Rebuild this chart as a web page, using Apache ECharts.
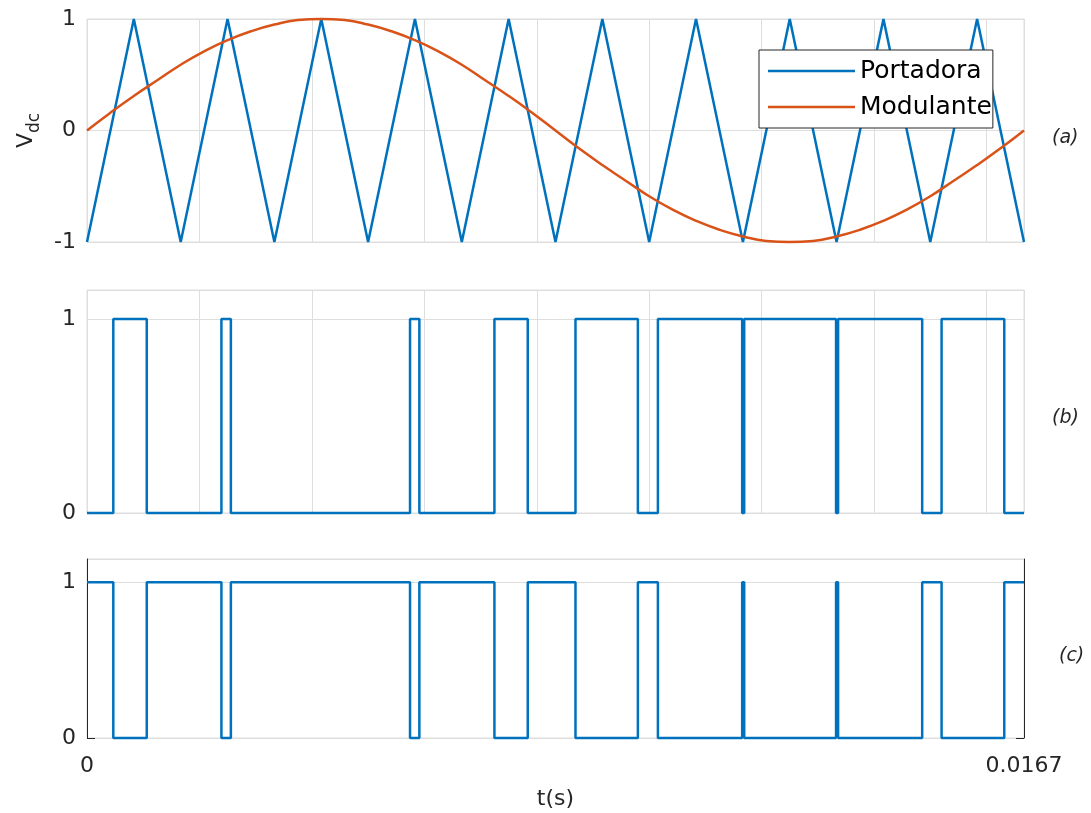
<!DOCTYPE html>
<html>
<head>
<meta charset="utf-8">
<script src="https://cdn.jsdelivr.net/npm/echarts@6/dist/echarts.min.js"></script>
<style>
  html, body { margin: 0; padding: 0; background: #fff; }
  #chart { width: 1091px; height: 813px; }
</style>
</head>
<body>
<div id="chart"></div>
<script>
// eixo do tempo (um periodo de 60 Hz)
const tMax = 0.016667;

// portadora triangular: vertices
const carrierT = [0, 0.000833, 0.001667, 0.0025, 0.003333, 0.004167, 0.005, 0.005833, 0.006667, 0.0075,
  0.008333, 0.009167, 0.01, 0.010833, 0.011667, 0.0125, 0.013333, 0.014167, 0.015, 0.015833, 0.016667];
const carrierV = [-1, 1, -1, 1, -1, 1, -1, 1, -1, 1, -1, 1, -1, 1, -1, 1, -1, 1, -1, 1, -1];

// modulante senoidal: pontos
const modT = [0, 0.000417, 0.000833, 0.00125, 0.001667, 0.002083, 0.0025, 0.002917, 0.003333, 0.00375,
  0.004167, 0.004583, 0.005, 0.005417, 0.005833, 0.00625, 0.006667, 0.007083, 0.0075, 0.007917,
  0.008333, 0.00875, 0.009167, 0.009583, 0.01, 0.010417, 0.010833, 0.01125, 0.011667, 0.012083,
  0.0125, 0.012917, 0.013333, 0.01375, 0.014167, 0.014583, 0.015, 0.015417, 0.015833, 0.01625, 0.016667];
const modV = [0, 0.16, 0.31, 0.45, 0.59, 0.71, 0.81, 0.89, 0.95, 0.99,
  1, 0.99, 0.95, 0.89, 0.81, 0.71, 0.59, 0.45, 0.31, 0.16,
  0, -0.16, -0.31, -0.45, -0.59, -0.71, -0.81, -0.89, -0.95, -0.99,
  -1, -0.99, -0.95, -0.89, -0.81, -0.71, -0.59, -0.45, -0.31, -0.16, 0];

// instantes de comutacao e niveis dos pulsos (b) e (c)
const pwmT = [0, 0.000468, 0.001063, 0.002391, 0.002559, 0.005746, 0.005912, 0.007247, 0.00784, 0.008689,
  0.009799, 0.010155, 0.011654, 0.01169, 0.013324, 0.01336, 0.014856, 0.015201, 0.016316, 0.016667];
const pwmB = [0, 1, 0, 1, 0, 1, 0, 1, 0, 1, 0, 1, 0, 1, 0, 1, 0, 1, 0, 0];
const pwmC = [1, 0, 1, 0, 1, 0, 1, 0, 1, 0, 1, 0, 1, 0, 1, 0, 1, 0, 1, 1];

const seriesNames = ['Portadora', 'Modulante'];
const panelLabels = ['(a)', '(b)', '(c)'];

const blue = '#0072BD';
const orange = '#D95319';
const ink = '#262626';
const gridGray = '#dedede';
const font = 'DejaVu Sans';

const zip = (xs, ys) => xs.map((x, i) => [x, ys[i]]);

const chart = echarts.init(document.getElementById('chart'));

const baseX = (idx, vgrid, labels) => ({
    type: 'value',
    gridIndex: idx,
    min: 0,
    max: tMax,
    interval: 0.002,
    axisLine: { show: false },
    axisTick: { show: false },
    splitLine: { show: vgrid, lineStyle: { color: gridGray, width: 1 } },
    axisLabel: {
        show: labels,
        color: ink,
        fontFamily: font,
        fontSize: 22,
        margin: 17,
        formatter: (v) => (v === 0 ? '0' : (v === tMax ? '0.0167' : ''))
    }
});

const yLabel = {
    color: ink,
    fontFamily: font,
    fontSize: 22,
    margin: 11
};

const darkY = (pos) => ({
    type: 'value', gridIndex: 2, min: 0, max: 1.15, interval: 1, position: pos,
    axisLine: { show: true, lineStyle: { color: ink, width: 1 } },
    axisTick: { show: true, inside: true, length: 8, lineStyle: { color: ink }, customValues: [0, 1] },
    splitLine: { show: false },
    axisLabel: { show: false }
});

chart.setOption({
    animation: false,
    backgroundColor: '#fff',
    grid: [
        { left: 87, right: 67, top: 19, height: 223, show: true, borderColor: gridGray, borderWidth: 1 },
        { left: 87, right: 67, top: 290, height: 223, show: true, borderColor: gridGray, borderWidth: 1 },
        { left: 87, right: 67, top: 559, height: 179, show: true, borderColor: gridGray, borderWidth: 1 }
    ],
    xAxis: [
        baseX(0, true, false),
        baseX(1, true, false),
        Object.assign(baseX(2, false, true), {
            name: 't(s)',
            nameLocation: 'middle',
            nameGap: 50,
            nameTextStyle: { color: ink, fontFamily: font, fontSize: 22 }
        })
    ],
    yAxis: [
        {
            type: 'value', gridIndex: 0, min: -1, max: 1, interval: 1,
            axisLine: { show: false }, axisTick: { show: false },
            splitLine: { lineStyle: { color: gridGray } },
            axisLabel: yLabel,
            name: '{v|V}{s|dc}',
            nameLocation: 'middle',
            nameRotate: 90,
            nameGap: 44,
            nameTextStyle: {
                rich: {
                    v: { fontSize: 22, fontFamily: font, color: ink, verticalAlign: 'bottom', padding: [0, 0, 6, 0] },
                    s: { fontSize: 17, fontFamily: font, color: ink, verticalAlign: 'bottom' }
                }
            }
        },
        {
            type: 'value', gridIndex: 1, min: 0, max: 1.15, interval: 1,
            axisLine: { show: false }, axisTick: { show: false },
            splitLine: { lineStyle: { color: gridGray } },
            axisLabel: Object.assign({}, yLabel, { formatter: (v) => (v === 0 || v === 1 ? String(v) : '') })
        },
        {
            type: 'value', gridIndex: 2, min: 0, max: 1.15, interval: 1,
            axisLine: { show: false }, axisTick: { show: false },
            splitLine: { lineStyle: { color: gridGray } },
            axisLabel: Object.assign({}, yLabel, { formatter: (v) => (v === 0 || v === 1 ? String(v) : '') })
        },
        darkY('left'),
        darkY('right')
    ],
    legend: {
        data: seriesNames,
        orient: 'vertical',
        left: 759,
        top: 50,
        padding: [6, 1, 6, 9],
        icon: 'rect',
        itemWidth: 87,
        itemHeight: 2.5,
        itemGap: 6,
        backgroundColor: '#fff',
        borderColor: ink,
        borderWidth: 1,
        borderRadius: 0,
        textStyle: { color: '#000', fontFamily: font, fontSize: 25, lineHeight: 30 }
    },
    graphic: panelLabels.map((txt, i) => ({
        type: 'text',
        left: [1052, 1052, 1059][i],
        top: [129, 409, 647][i],
        style: { text: txt, font: 'italic 19px "DejaVu Sans"', fill: ink }
    })),
    series: [
        {
            name: seriesNames[0], type: 'line', xAxisIndex: 0, yAxisIndex: 0,
            data: zip(carrierT, carrierV), symbol: 'none', clip: false,
            lineStyle: { color: blue, width: 2.5 }, itemStyle: { color: blue }
        },
        {
            name: seriesNames[1], type: 'line', xAxisIndex: 0, yAxisIndex: 0,
            data: zip(modT, modV), symbol: 'none', clip: false, smooth: 0.5,
            lineStyle: { color: orange, width: 2.5 }, itemStyle: { color: orange }
        },
        {
            name: 'b', type: 'line', xAxisIndex: 1, yAxisIndex: 1, step: 'end',
            data: zip(pwmT, pwmB), symbol: 'none', clip: false,
            lineStyle: { color: blue, width: 2.5 }, itemStyle: { color: blue }
        },
        {
            name: 'c', type: 'line', xAxisIndex: 2, yAxisIndex: 2, step: 'end',
            data: zip(pwmT, pwmC), symbol: 'none', clip: false,
            lineStyle: { color: blue, width: 2.5 }, itemStyle: { color: blue }
        }
    ]
});
</script>
</body>
</html>
